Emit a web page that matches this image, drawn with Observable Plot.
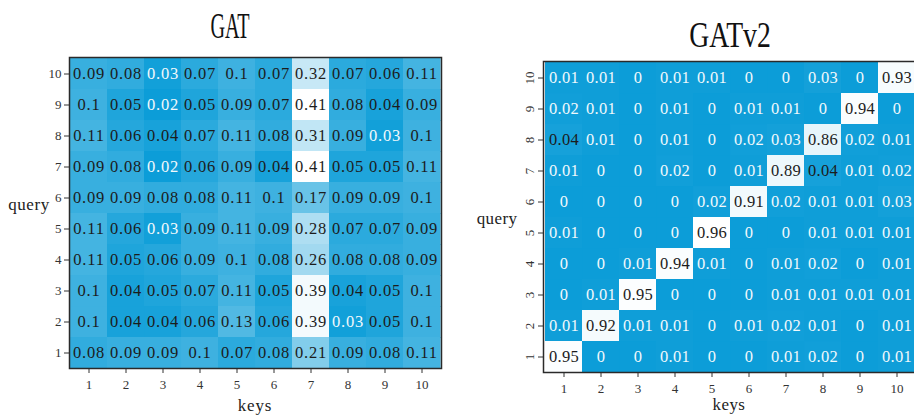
<!DOCTYPE html>
<html>
<head>
<meta charset="utf-8">
<script src="https://cdn.jsdelivr.net/npm/d3@7"></script>
<script src="https://cdn.jsdelivr.net/npm/@observablehq/plot@0.6"></script>
<style>
  html, body { margin: 0; padding: 0; background: #fff; overflow: hidden; }
  #page { position: relative; width: 914px; height: 415px; overflow: hidden; }
  .panel { position: absolute; top: 0; width: 460px; height: 415px; }
  .panel svg { max-width: none !important; display: block; }
  .lbl {
    position: absolute; font-family: "Liberation Serif", serif; color: #222;
    line-height: 1; white-space: nowrap; transform: translate(-50%, -50%);
  }
  .title {
    position: absolute; font-family: "Liberation Serif", serif; color: #111;
    font-size: 36px; line-height: 36px; white-space: nowrap;
  }
</style>
</head>
<body>
<div id="page">
  <div class="title" id="t1" style="left:229.5px; top:8px; transform: translateX(-50%) scaleX(0.56);">GAT</div>
  <div class="title" id="t2" style="left:730px; top:17px; transform: translateX(-50%) scaleX(0.77);">GATv2</div>
  <div class="panel" id="left" style="left:0px;"></div>
  <div class="panel" id="right" style="left:460px;"></div>
  <div class="lbl" style="left:29px; top:204px; font-size:17px; letter-spacing:0.6px;">query</div>
  <div class="lbl" style="left:497px; top:218px; font-size:17px; letter-spacing:0.4px;">query</div>
  <div class="lbl" style="left:255px; top:405px; font-size:17px; letter-spacing:0.8px;">keys</div>
  <div class="lbl" style="left:729px; top:404px; font-size:17px; letter-spacing:0.4px;">keys</div>
</div>
<script>
// Key (column) and query (row) labels; rows listed from query 10 down to query 1.
const keys = [1, 2, 3, 4, 5, 6, 7, 8, 9, 10];
const queries = [10, 9, 8, 7, 6, 5, 4, 3, 2, 1];

// Attention weights of GAT: one row per query, one column per key.
const gatRows = [
  [0.09, 0.08, 0.03, 0.07, 0.1, 0.07, 0.32, 0.07, 0.06, 0.11],
  [0.1, 0.05, 0.02, 0.05, 0.09, 0.07, 0.41, 0.08, 0.04, 0.09],
  [0.11, 0.06, 0.04, 0.07, 0.11, 0.08, 0.31, 0.09, 0.03, 0.1],
  [0.09, 0.08, 0.02, 0.06, 0.09, 0.04, 0.41, 0.05, 0.05, 0.11],
  [0.09, 0.09, 0.08, 0.08, 0.11, 0.1, 0.17, 0.09, 0.09, 0.1],
  [0.11, 0.06, 0.03, 0.09, 0.11, 0.09, 0.28, 0.07, 0.07, 0.09],
  [0.11, 0.05, 0.06, 0.09, 0.1, 0.08, 0.26, 0.08, 0.08, 0.09],
  [0.1, 0.04, 0.05, 0.07, 0.11, 0.05, 0.39, 0.04, 0.05, 0.1],
  [0.1, 0.04, 0.04, 0.06, 0.13, 0.06, 0.39, 0.03, 0.05, 0.1],
  [0.08, 0.09, 0.09, 0.1, 0.07, 0.08, 0.21, 0.09, 0.08, 0.11]
];

// Attention weights of GATv2.
const gatv2Rows = [
  [0.01, 0.01, 0, 0.01, 0.01, 0, 0, 0.03, 0, 0.93],
  [0.02, 0.01, 0, 0.01, 0, 0.01, 0.01, 0, 0.94, 0],
  [0.04, 0.01, 0, 0.01, 0, 0.02, 0.03, 0.86, 0.02, 0.01],
  [0.01, 0, 0, 0.02, 0, 0.01, 0.89, 0.04, 0.01, 0.02],
  [0, 0, 0, 0, 0.02, 0.91, 0.02, 0.01, 0.01, 0.03],
  [0.01, 0, 0, 0, 0.96, 0, 0, 0.01, 0.01, 0.01],
  [0, 0, 0.01, 0.94, 0.01, 0, 0.01, 0.02, 0, 0.01],
  [0, 0.01, 0.95, 0, 0, 0, 0.01, 0.01, 0.01, 0.01],
  [0.01, 0.92, 0.01, 0.01, 0, 0.01, 0.02, 0.01, 0, 0.01],
  [0.95, 0, 0, 0.01, 0, 0, 0.01, 0.02, 0, 0.01]
];

const BLUE = "#0c9dd8";

function toTable(rows) {
  const out = [];
  rows.forEach((row, i) => row.forEach((v, j) => out.push({query: queries[i], key: keys[j], v})));
  return out;
}

function heatmap(rows, opts) {
  const data = toTable(rows);
  const ext = d3.extent(data, d => d.v);
  const svg = Plot.plot({
    width: opts.width,
    height: 415,
    marginTop: opts.top,
    marginBottom: opts.bottom,
    marginLeft: opts.left,
    marginRight: opts.right,
    style: {fontFamily: "Liberation Serif, serif", fontSize: "12px", color: "#333", background: "transparent"},
    x: {type: "band", domain: keys, padding: 0, label: null, tickSize: 5, tickPadding: 6},
    y: {type: "band", domain: queries, padding: 0, label: null, tickSize: 5,
        tickPadding: opts.rotate ? 5 : 3, tickRotate: opts.rotate ? -90 : 0},
    color: {type: "linear", domain: ext, range: [BLUE, "#ffffff"], interpolate: "rgb"},
    marks: [
      Plot.cell(data, {x: "key", y: "query", fill: "v", stroke: "v", strokeWidth: 0.6, shapeRendering: "crispEdges"}),
      Plot.text(data.filter(d => d.v < 0.035), {x: "key", y: "query", text: d => String(d.v), fill: "#f2f9fc", fontSize: 16.5}),
      Plot.text(data.filter(d => d.v >= 0.035), {x: "key", y: "query", text: d => String(d.v), fill: "#1c1c1c", fontSize: 16.5}),
      Plot.frame({stroke: "#2a2a2a", strokeWidth: 1.5})
    ]
  });
  const sel = d3.select(svg);
  sel.selectAll('g[aria-label="text"] text').style("letter-spacing", opts.spacing);
  // Axis tick labels a little larger than the library default.
  sel.selectAll('g[aria-label*="axis"] text').style("font-size", "13px").style("fill", "#333");
  sel.selectAll('g[aria-label*="axis"]').style("font-size", "13px");
  return svg;
}

document.getElementById("left").appendChild(
  heatmap(gatRows, {width: 460, top: 57, bottom: 47, left: 69, right: 19, rotate: false, spacing: "0.8px"})
);
document.getElementById("right").appendChild(
  heatmap(gatv2Rows, {width: 460, top: 61, bottom: 43, left: 83, right: 4, rotate: true, spacing: "0.3px"})
);
</script>
</body>
</html>
